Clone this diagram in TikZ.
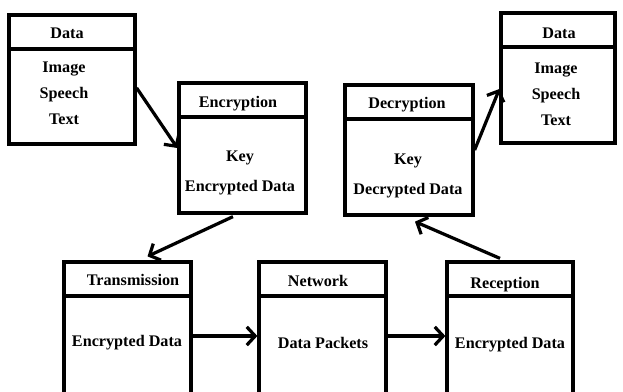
\documentclass[tikz,border=0pt]{standalone}
\usepackage{fontspec}
\setmainfont{Liberation Serif}
\usetikzlibrary{arrows.meta}

\begin{document}
\begin{tikzpicture}[>={Straight Barb[length=6pt, width=13pt, line width=2.3pt]},
  box/.style={rectangle, draw, line width=2.3pt, inner sep=0pt},
  title/.style={font=\fontsize{11.5}{14}\selectfont\bfseries},
  body/.style={align=center, font=\fontsize{11.5}{18.5}\selectfont\bfseries},
  link/.style={->, line width=2.3pt}]
  \useasboundingbox (0,0) rectangle (15.575,9.775);
  \clip (0,0) rectangle (15.575,9.775);
  % Boxes
  \node[box, minimum width=3.15cm, minimum height=3.225cm] (dataL) at (1.8,7.7875) {};
  \node[box, minimum width=3.175cm, minimum height=3.25cm] (enc) at (6.0625,6.075) {};
  \node[box, minimum width=3.2cm, minimum height=3.25cm] (dec) at (10.225,6.025) {};
  \node[box, minimum width=2.85cm, minimum height=3.25cm] (dataR) at (13.95,7.825) {};
  \node[box, minimum width=3.175cm, minimum height=3.7cm] (tx) at (3.1875,1.375) {};
  \node[box, minimum width=3.175cm, minimum height=3.7cm] (net) at (8.0625,1.375) {};
  \node[box, minimum width=3.15cm, minimum height=3.7cm] (rec) at (12.75,1.375) {};
  % Header lines
  \foreach \b in {dataL,enc,dec,dataR,tx,net,rec}
    \draw[line width=2.3pt] ([yshift=-0.89cm]\b.north west) -- ([yshift=-0.89cm]\b.north east);
  % Titles
  \node[title] (dataLT) at (1.675,8.95) {Data};
  \node[title] (encT) at (5.95,7.18) {Encryption};
  \node[title] (decT) at (10.175,7.15) {Decryption};
  \node[title] (dataRT) at (13.975,8.94) {Data};
  \node[title] (txT) at (3.325,2.78) {Transmission};
  \node[title] (netT) at (7.95,2.75) {Network};
  \node[title] (recT) at (12.625,2.67) {Reception};
  % Contents
  \node[body] (dataLB) at (1.6,7.45) {Image\\Speech\\Text};
  \node[body, font=\fontsize{11.5}{21}\selectfont\bfseries] (encB) at (6.0,5.45) {Key\\Encrypted Data};
  \node[body, font=\fontsize{11.5}{21}\selectfont\bfseries] (decB) at (10.2,5.37) {Key\\Decrypted Data};
  \node[body] (dataRB) at (13.9,7.43) {Image\\Speech\\Text};
  \node[body] (txB) at (3.175,1.2) {Encrypted Data};
  \node[body] (netB) at (8.075,1.2) {Data Packets};
  \node[body] (recB) at (12.75,1.15) {Encrypted Data};
  % Arrows
  \draw[link] ([yshift=-0.21cm]dataL.east) -- (enc.west);
  \draw[link, shorten <=0.12cm] ([xshift=-0.13cm]enc.south) -- ([xshift=0.5cm, yshift=0.1cm]tx.north);
  \draw[link] (tx.east) -- (net.west);
  \draw[link] (net.east) -- (rec.west);
  \draw[link] ([xshift=-0.25cm, yshift=0.05cm]rec.north) -- ([xshift=0.15cm, yshift=-0.125cm]dec.south);
  \draw[link] (dec.east) -- ([yshift=-0.275cm]dataR.west);
\end{tikzpicture}
\end{document}
